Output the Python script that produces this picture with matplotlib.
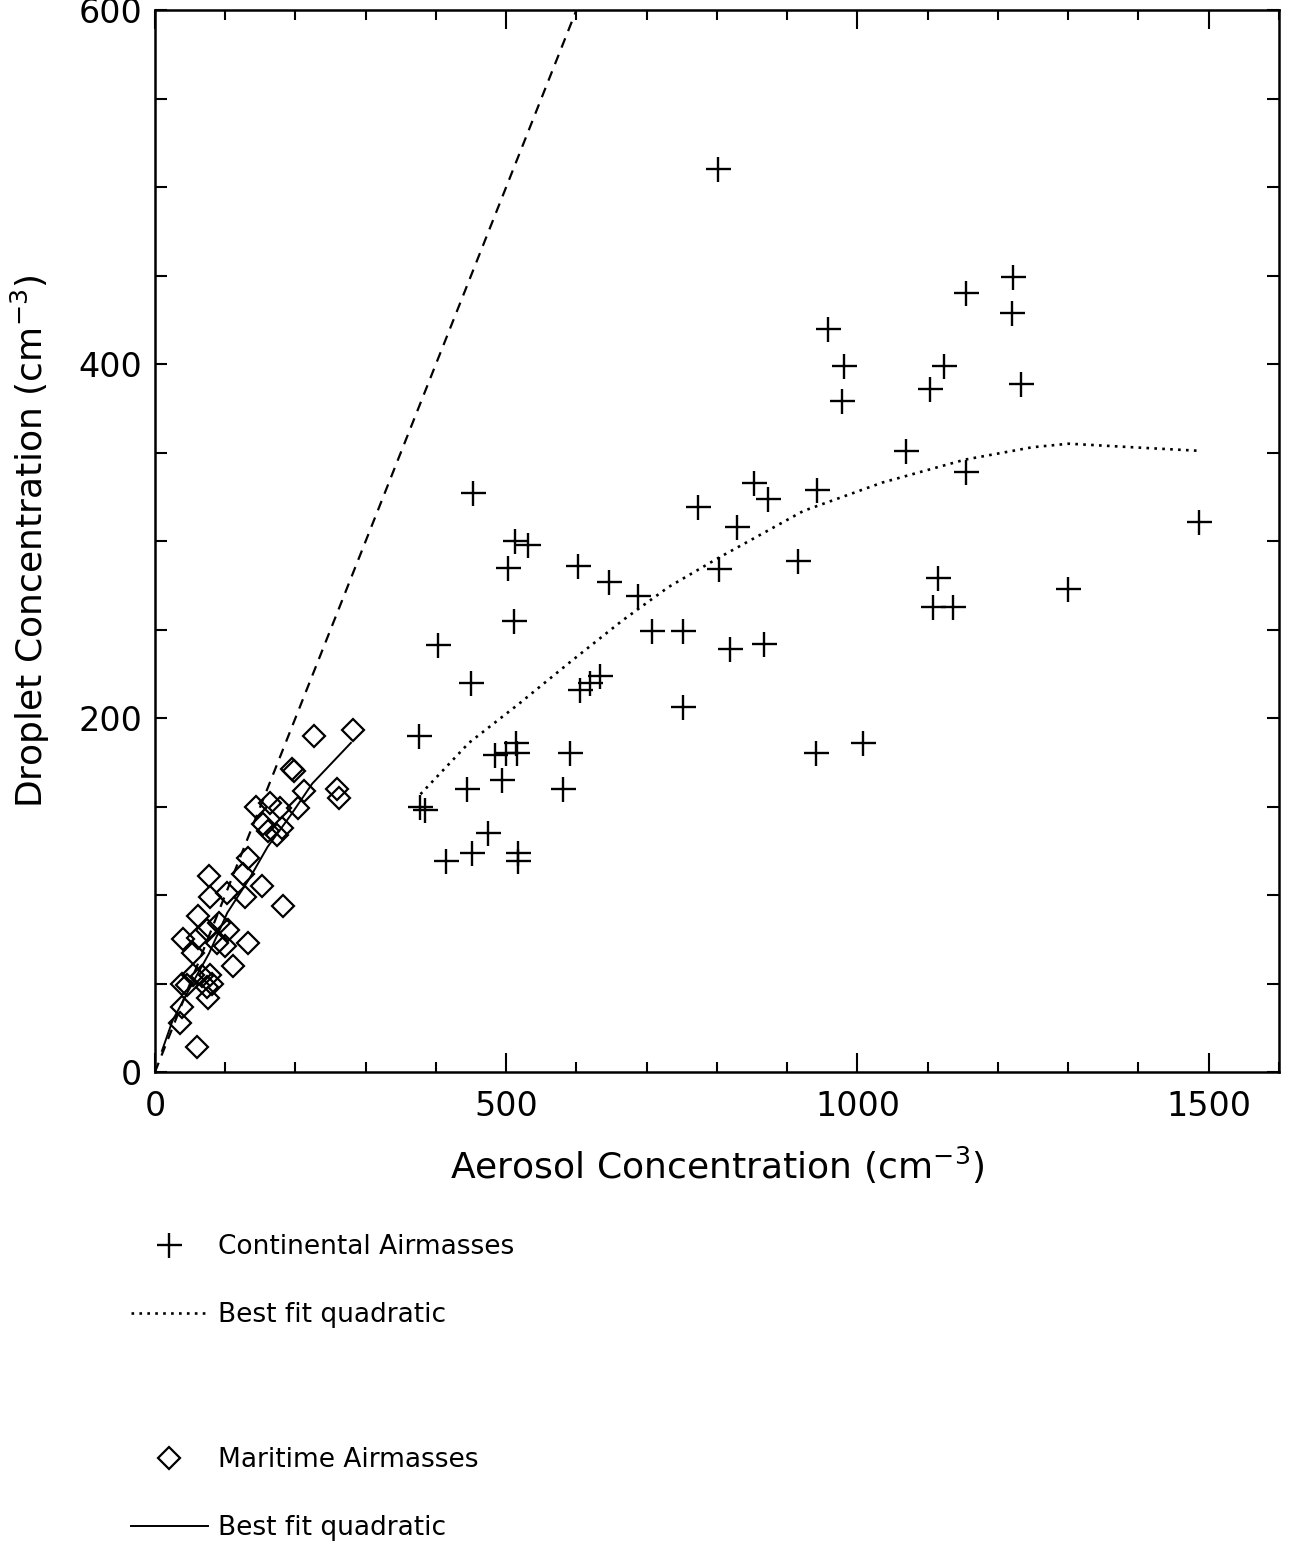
"""
Droplet vs aerosol concentration for continental and maritime airmasses.
"""

import matplotlib

matplotlib.use("Agg")
import matplotlib.pyplot as plt
from matplotlib.ticker import MultipleLocator

# Continental airmasses (plus markers)
cont_x = [801, 1221, 1154, 1220, 958, 981, 1123, 978, 1103, 1233,
          1069, 1154, 853, 873, 942, 453, 773, 828, 1486, 512,
          531, 502, 602, 915, 646, 803, 1115, 688, 1300, 1107,
          1136, 511, 403, 707, 752, 818, 867, 450, 605, 619,
          633, 752, 376, 1008, 941, 514, 515, 500, 484, 591,
          494, 444, 581, 377, 384, 474, 451, 414, 517, 517]
cont_y = [510, 449, 440, 429, 420, 399, 399, 379, 386, 389,
          351, 339, 333, 324, 329, 327, 319, 308, 311, 300,
          298, 285, 286, 289, 277, 284, 279, 269, 273, 263,
          263, 255, 241, 249, 249, 239, 242, 220, 216, 220,
          224, 206, 190, 186, 180, 186, 180, 180, 179, 180,
          165, 160, 160, 150, 148, 135, 124, 119, 124, 119]

# Maritime airmasses (diamond markers)
mar_x = [226, 282, 198, 195, 212, 259, 262, 144, 164, 178,
         204, 154, 161, 181, 174, 132, 125, 152, 77, 102,
         78, 128, 182, 61, 91, 104, 74, 40, 61, 88,
         132, 100, 54, 111, 54, 67, 78, 81, 38, 46,
         74, 75, 38, 36, 60]
mar_y = [190, 193, 170, 171, 159, 160, 155, 150, 152, 149,
         149, 140, 136, 138, 134, 121, 112, 105, 111, 101,
         99, 99, 94, 88, 84, 80, 80, 75, 76, 73,
         73, 71, 67, 60, 55, 54, 55, 50, 50, 49,
         48, 42, 37, 28, 14]

# Best fit curves
cont_fit_x = [378, 447, 518, 589, 665, 731, 800, 923, 1035, 1153, 1249, 1301, 1391, 1486]
cont_fit_y = [157, 186, 208, 231, 255, 274, 290, 317, 333, 346, 353, 355, 353, 351]
mar_fit_x = [10, 25, 53, 77, 103, 134, 160, 193, 224, 279]
mar_fit_y = [12, 29, 50, 67, 90, 109, 127, 145, 163, 186]

# One-to-one line
one_x = [0, 620]
one_y = [0, 620]

plt.rcParams["font.family"] = ["DejaVu Sans"]

fig = plt.figure(figsize=(12.89, 15.43), dpi=100)
ax = fig.add_axes([0.1202, 0.3052, 0.8720, 0.6883])

ax.plot(one_x, one_y, color="black", lw=1.6, linestyle=(0, (4.5, 3.5)))
dotted, = ax.plot(cont_fit_x, cont_fit_y, color="black", lw=1.9,
                  linestyle=(0, (1, 2)))
solid, = ax.plot(mar_fit_x, mar_fit_y, color="black", lw=1.4)
plus, = ax.plot(cont_x, cont_y, linestyle="none", marker="+",
                markersize=18, markeredgewidth=1.7, color="black")
diam, = ax.plot(mar_x, mar_y, linestyle="none", marker="D",
                markersize=11, markeredgewidth=1.6, color="black",
                markerfacecolor="none")

ax.set_xlim(0, 1600)
ax.set_ylim(0, 600)
ax.xaxis.set_major_locator(MultipleLocator(500))
ax.xaxis.set_minor_locator(MultipleLocator(100))
ax.yaxis.set_major_locator(MultipleLocator(200))
ax.yaxis.set_minor_locator(MultipleLocator(50))
ax.tick_params(which="both", direction="in", top=True, right=True,
               width=1.5, labelsize=24)
ax.tick_params(axis="x", which="major", length=14, pad=13)
ax.tick_params(axis="x", which="minor", length=7)
ax.tick_params(axis="y", which="both", length=8.5, pad=9)
for spine in ax.spines.values():
    spine.set_linewidth(1.8)

ax.set_xlabel("Aerosol Concentration (cm$^{-3}$)", fontsize=26,
              va="center")
ax.xaxis.set_label_coords(0.5, -0.0876)
ax.set_ylabel("Droplet Concentration (cm$^{-3}$)", fontsize=26,
              va="center")
ax.yaxis.set_label_coords(-0.111, 0.5)

# Two separate legend blocks below the plot
leg_kw = dict(loc="upper left", frameon=False, fontsize=19, numpoints=1,
              handlelength=2.9, handletextpad=0.4, labelspacing=1.6,
              borderpad=0, borderaxespad=0)
fig.legend([plus, dotted], ["Continental Airmasses", "Best fit quadratic"],
           bbox_to_anchor=(131 / 1289, 1 - 1234 / 1543), **leg_kw)
fig.legend([diam, solid], ["Maritime Airmasses", "Best fit quadratic"],
           bbox_to_anchor=(131 / 1289, 1 - 1447 / 1543), **leg_kw)

fig.savefig("out.png", dpi=100)
